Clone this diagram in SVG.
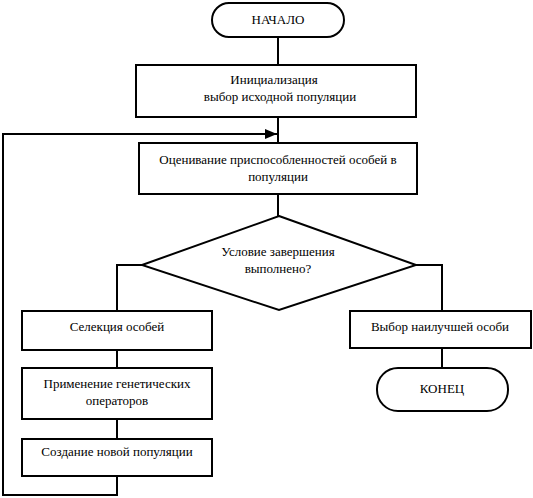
<svg xmlns="http://www.w3.org/2000/svg" width="533" height="498" viewBox="0 0 533 498">
<defs>
<style>
.n{fill:#fff;stroke:#000;stroke-width:2}
.c{fill:none;stroke:#000;stroke-width:2}
text{font-family:"Liberation Serif","Times New Roman",serif;font-size:13px;fill:#000;text-anchor:middle}
</style>
<marker id="ah" markerWidth="12" markerHeight="10" refX="12" refY="5" orient="auto" markerUnits="userSpaceOnUse">
<path d="M0,0 L12,5 L0,10 Z" fill="#000"/>
</marker>
</defs>
<rect width="533" height="498" fill="#fff"/>
<g id="connectors">
<line class="c" x1="278" y1="37" x2="278" y2="65"/>
<line class="c" x1="278" y1="117" x2="278" y2="143"/>
<line class="c" x1="278" y1="194" x2="278" y2="216"/>
<polyline class="c" points="142,265 117,265 117,311"/>
<polyline class="c" points="416,265 442,265 442,311"/>
<line class="c" x1="117" y1="350" x2="117" y2="368"/>
<line class="c" x1="117" y1="419" x2="117" y2="439"/>
<polyline class="c" points="117,476 117,495 3,495 3,134 277,134" marker-end="url(#ah)"/>
<line class="c" x1="442" y1="348" x2="442" y2="368"/>
</g>
<g id="start">
<rect class="n" x="212" y="3" width="132" height="34" rx="17"/>
<text x="278" y="24">НАЧАЛО</text>
</g>
<g id="init">
<rect class="n" x="136" y="65" width="280" height="52"/>
<text x="274" y="84">Инициализация</text>
<text x="280" y="101">выбор исходной популяции</text>
</g>
<g id="eval">
<rect class="n" x="139" y="143" width="278" height="51"/>
<text x="278" y="164">Оценивание приспособленностей особей в</text>
<text x="278" y="181">популяции</text>
</g>
<g id="cond">
<polygon class="n" points="279,216 416,265 279,310 142,265"/>
<text x="278" y="256">Условие завершения</text>
<text x="278" y="273">выполнено?</text>
</g>
<g id="select">
<rect class="n" x="22" y="311" width="190" height="39"/>
<text x="117" y="331">Селекция особей</text>
</g>
<g id="genetic">
<rect class="n" x="22" y="368" width="190" height="51"/>
<text x="117" y="388">Применение генетических</text>
<text x="117" y="405">операторов</text>
</g>
<g id="create">
<rect class="n" x="22" y="439" width="190" height="37"/>
<text x="117" y="456">Создание новой популяции</text>
</g>
<g id="best">
<rect class="n" x="350" y="311" width="181" height="37"/>
<text x="440" y="331">Выбор наилучшей особи</text>
</g>
<g id="end">
<rect class="n" x="377" y="368" width="131" height="43" rx="21"/>
<text x="442" y="393">КОНЕЦ</text>
</g>
</svg>
